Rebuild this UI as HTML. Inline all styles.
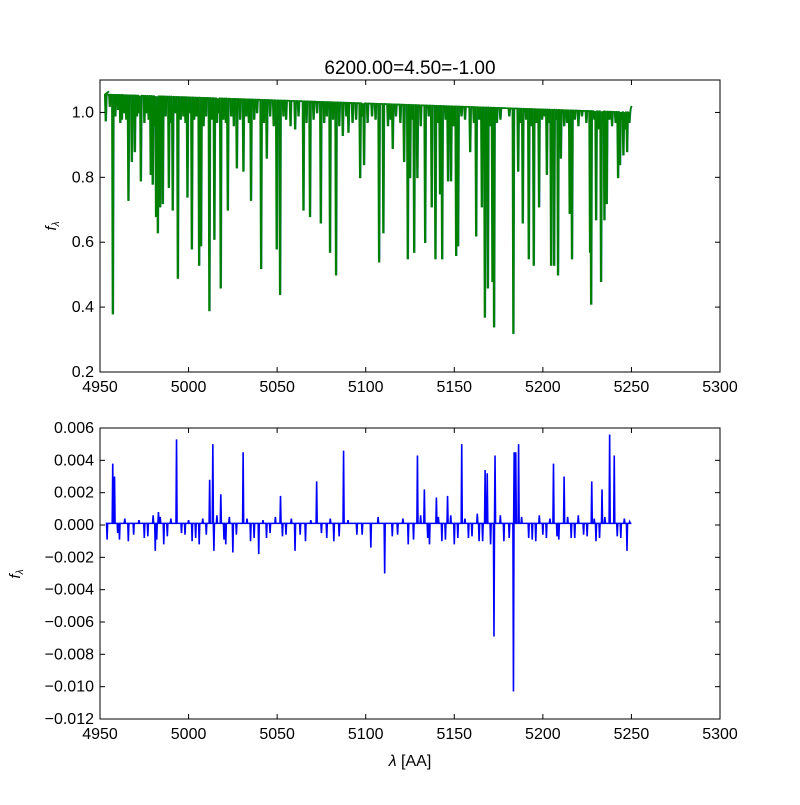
<!DOCTYPE html>
<html><head><meta charset="utf-8"><style>
body{margin:0;background:#fff;}
svg text{font-family:"Liberation Sans",sans-serif;}
</style></head><body>
<svg id="c" width="800" height="800" xmlns="http://www.w3.org/2000/svg"></svg>
<script>
// ---- data ----
const contStart = 1.065, contEnd = 1.01; // continuum flux at 4955 and 5250
const lineWave = [4953.2,4957.2,4962.3,4966.0,4967.9,4969.6,4973.0,4978.6,4979.7,4981.6,4982.6,4983.9,4985.4,4988.8,4991.0,4993.9,4999.3,5001.8,5005.9,5007.0,5011.7,5014.5,5018.1,5022.1,5027.2,5030.9,5035.2,5040.9,5044.1,5049.7,5051.6,5060.1,5064.8,5068.5,5074.6,5079.8,5083.2,5087.0,5090.2,5096.8,5099.0,5107.5,5109.9,5115.2,5121.6,5123.7,5125.0,5127.3,5129.1,5133.5,5137.2,5139.3,5141.9,5143.1,5146.4,5148.1,5151.0,5152.1,5158.9,5162.3,5165.5,5167.2,5168.9,5171.5,5172.4,5183.3,5186.0,5188.6,5192.0,5194.8,5197.8,5202.2,5204.6,5206.3,5208.5,5210.1,5215.1,5216.4,5226.6,5227.2,5230.0,5232.8,5234.7,5236.0,5242.4,5243.5,5245.4,5247.5];
const lineMin = [0.975,0.38,0.98,0.73,0.85,0.88,0.79,0.81,0.78,0.68,0.63,0.71,0.72,0.77,0.70,0.49,0.74,0.58,0.53,0.59,0.39,0.61,0.46,0.70,0.83,0.82,0.73,0.52,0.86,0.58,0.44,0.95,0.70,0.68,0.66,0.57,0.50,0.93,0.94,0.80,0.84,0.54,0.63,0.89,0.85,0.55,0.80,0.57,0.80,0.60,0.71,0.55,0.75,0.55,0.79,0.79,0.56,0.59,0.88,0.62,0.71,0.37,0.46,0.48,0.34,0.32,0.82,0.66,0.55,0.53,0.71,0.81,0.53,0.53,0.50,0.86,0.69,0.55,0.57,0.41,0.67,0.48,0.67,0.72,0.80,0.84,0.87,0.88];
const weakWave = [4955.5,4958.6,4960.1,4961.4,4963.6,4964.8,4970.8,4972.0,4975.0,4976.3,4977.4,4980.6,4984.6,4987.0,4989.9,4992.4,4995.5,4997.0,4998.2,5000.5,5003.1,5004.4,5008.4,5009.8,5013.0,5016.0,5017.0,5019.6,5021.0,5024.0,5025.5,5029.0,5032.5,5034.0,5037.0,5038.6,5042.5,5046.0,5048.0,5053.5,5055.0,5057.5,5062.0,5066.5,5070.5,5072.5,5076.5,5078.0,5081.5,5085.0,5089.0,5092.5,5094.5,5098.0,5101.0,5103.5,5105.5,5112.5,5114.0,5117.0,5119.5,5126.2,5131.0,5135.5,5140.6,5145.0,5149.6,5154.0,5156.0,5161.0,5164.0,5170.0,5174.0,5176.0,5181.0,5187.3,5190.5,5193.5,5196.2,5199.5,5201.0,5203.4,5207.4,5212.0,5213.6,5218.0,5220.0,5222.0,5224.5,5229.0,5231.5,5233.8,5237.5,5239.0,5241.0,5244.5,5246.4,5248.8];
const weakMin = [1.02,0.99,1.01,0.97,1.0,0.98,0.99,1.0,0.97,1.0,0.98,0.96,0.98,0.99,0.97,1.0,0.98,0.99,0.97,1.0,0.98,0.99,0.96,0.99,0.98,0.97,1.0,0.98,0.97,0.99,0.96,0.98,0.99,0.97,0.98,1.0,0.97,0.99,0.96,0.99,0.98,0.96,0.99,0.97,0.98,1.0,0.97,0.99,0.98,0.96,0.99,0.97,0.98,0.99,0.97,0.99,0.98,0.96,0.98,0.99,0.97,0.98,0.96,0.99,0.97,0.98,0.96,0.99,0.98,0.97,0.98,0.96,0.97,0.98,0.99,0.97,0.98,0.96,0.97,0.98,0.99,0.97,0.98,0.96,0.97,0.98,0.96,0.99,0.97,0.98,0.95,0.97,0.98,0.96,0.97,0.98,0.95,0.97];
const resWave = [4954.0,4957.2,4958.2,4961.0,4966.0,4975.0,4981.2,4983.0,4986.0,4993.2,4998.0,5002.0,5006.0,5011.9,5013.7,5014.3,5018.2,5021.0,5025.0,5030.8,5035.0,5039.6,5044.0,5051.9,5055.0,5060.1,5066.0,5072.3,5078.0,5082.0,5087.5,5095.0,5102.9,5110.7,5118.0,5124.0,5129.2,5133.1,5136.0,5139.9,5143.0,5146.2,5150.0,5154.2,5158.0,5164.0,5167.4,5168.6,5170.5,5172.4,5173.0,5178.0,5183.4,5183.8,5184.7,5186.3,5192.0,5196.0,5200.0,5206.0,5209.0,5212.0,5218.0,5223.0,5227.6,5230.0,5233.4,5237.7,5240.3,5244.0,5247.5,5249.0];
const resVal = [-0.0009,0.0038,0.0030,-0.0009,-0.0010,-0.0008,-0.0016,0.0008,-0.0012,0.0053,-0.0006,-0.0010,-0.0012,0.0028,0.0050,-0.0016,0.0019,-0.0012,-0.0017,0.0045,-0.0010,-0.0018,-0.0008,0.0018,-0.0006,-0.0016,-0.0010,0.0027,-0.0008,-0.0010,0.0046,-0.0006,-0.0014,-0.0030,-0.0006,-0.0012,0.0043,0.0022,-0.0012,0.0017,-0.0010,0.0018,-0.0012,0.0050,-0.0008,-0.0010,0.0034,0.0032,-0.0012,-0.0069,0.0043,-0.0010,-0.0103,0.0045,0.0045,0.0050,-0.0008,-0.0010,-0.0006,0.0038,-0.0009,0.0030,-0.0008,-0.0006,0.0027,-0.0010,0.0022,0.0056,0.0043,-0.0008,-0.0016,0.0002];
const noiseWave = [4960,4964,4969,4972,4977,4980,4982,4984,4988,4990,4996,5000,5004,5008,5010,5016,5020,5023,5027,5033,5037,5042,5046,5049,5053,5058,5063,5069,5075,5080,5085,5090,5098,5107,5115,5121,5127,5131,5135,5141,5145,5148,5152,5156,5160,5163,5166,5176,5181,5188,5194,5198,5202,5204,5208,5214,5216,5220,5225,5229,5232,5235,5242,5246];
const noiseVal = [-0.0005,0.0004,-0.0006,0.0003,-0.0007,0.0006,-0.0009,0.0005,-0.0007,0.0004,-0.0005,0.0003,-0.0008,0.0004,-0.0006,0.0006,-0.0009,0.0005,-0.0006,0.0004,-0.0008,0.0003,-0.0005,0.0005,-0.0007,0.0004,-0.0006,0.0003,-0.0005,0.0004,-0.0007,0.0003,-0.0006,0.0005,-0.0007,0.0004,-0.0009,0.0006,-0.0008,0.0005,-0.0009,0.0006,-0.0008,0.0004,-0.0007,0.0007,-0.0010,0.0006,-0.0008,0.0005,-0.0009,0.0006,-0.0008,0.0004,-0.0007,0.0005,-0.0008,0.0006,-0.0007,0.0004,-0.0008,0.0005,-0.0007,0.0004];
const xTicks = [4950,5000,5050,5100,5150,5200,5250,5300];
const yTopTicks = [0.2,0.4,0.6,0.8,1.0];
const yBotTicks = [0.006,0.004,0.002,0.000,-0.002,-0.004,-0.006,-0.008,-0.010,-0.012];

const NS="http://www.w3.org/2000/svg", svg=document.getElementById('c');
function el(t,a,p){const e=document.createElementNS(NS,t);for(const k in a)e.setAttribute(k,a[k]);(p||svg).appendChild(e);return e;}
const X0=100,X1=720;
const xs=w=>X0+(w-4950)/350*(X1-X0);
const T0=80,T1=372; const yt=v=>T1-(v-0.2)/0.9*(T1-T0);
const B0=428,B1=719; const yb=v=>B1-(v+0.012)/0.018*(B1-B0);
const cont=w=>contStart+(contEnd-contStart)*(w-4955)/(5250-4955);

function grp(name){const g=el('g',{});
  
  
  return g;}
const ptStr=(a,f)=>a.map(p=>xs(p[0]).toFixed(2)+','+f(p[1]).toFixed(2)).join(' ');

// top panel
const gt=grp('top-axes');
let ls=[];
lineWave.forEach((w,i)=>ls.push([w,lineMin[i]]));
weakWave.forEach((w,i)=>ls.push([w,Math.min(weakMin[i],cont(w))]));
ls.sort((a,b)=>a[0]-b[0]);
let pts=[[4955,cont(4955)]];
ls.forEach(([w,m])=>{pts.push([w-0.5,cont(w)-0.01],[w-0.15,m],[w+0.15,m],[w+0.5,cont(w)-0.01]);});
pts.push([5249.5,cont(5249.5)],[5250,1.02]);
const ml=el('polyline',{points:ptStr(pts.map(p=>[p[0]+0.2,p[1]]),yt),fill:'none',stroke:'#2a6f8f','stroke-width':1.5},gt);

const dl=el('polyline',{points:ptStr(pts,yt),fill:'none',stroke:'#008000','stroke-width':1.6},gt);


// bottom panel
const gb=grp('bottom-axes');
let rs=[];
resWave.forEach((w,i)=>rs.push([w,resVal[i]]));
noiseWave.forEach((w,i)=>rs.push([w,noiseVal[i]]));
rs.sort((a,b)=>a[0]-b[0]);
let rp=[[4955,0.0001]];
rs.forEach(([w,v])=>{rp.push([w-0.3,0.0001],[w,v],[w+0.3,0.0001]);});
rp.push([5250,0.0001]);
const rl=el('polyline',{points:ptStr(rp,yb),fill:'none',stroke:'#0000ff','stroke-width':1.6},gb);


function frame(t,b,yticks,yf,fmt,g){
  el('rect',{x:X0,y:t,width:X1-X0,height:b-t,fill:'none',stroke:'#000','stroke-width':1},g);
  xTicks.forEach(v=>{const x=xs(v);
    el('line',{x1:x,x2:x,y1:b,y2:b-5,stroke:'#000'},g);el('line',{x1:x,x2:x,y1:t,y2:t+5,stroke:'#000'},g);
    const tx=el('text',{x:x,y:b+20,'text-anchor':'middle','font-size':16},g);tx.textContent=v;
    });
  yticks.forEach(v=>{const y=yf(v);
    el('line',{x1:X0,x2:X0+5,y1:y,y2:y,stroke:'#000'},g);el('line',{x1:X1,x2:X1-5,y1:y,y2:y,stroke:'#000'},g);
    const tx=el('text',{x:X0-6,y:y+5,'text-anchor':'end','font-size':16},g);tx.textContent=fmt(v).replace('-','\u2212');
    });
}
frame(T0,T1,yTopTicks,yt,v=>v.toFixed(1),gt);
frame(B0,B1,yBotTicks,yb,v=>v.toFixed(3),gb);

const title=el('text',{x:410,y:74,'text-anchor':'middle','font-size':19});title.textContent='6200.00=4.50=-1.00';

const yl1=el('text',{transform:'translate(56,226) rotate(-90)','text-anchor':'middle','font-size':15,'font-style':'italic'});
yl1.innerHTML='f<tspan font-size="10" dy="3">λ</tspan>';

const yl2=el('text',{transform:'translate(20,574) rotate(-90)','text-anchor':'middle','font-size':15,'font-style':'italic'});
yl2.innerHTML='f<tspan font-size="10" dy="3">λ</tspan>';

const xl=el('text',{x:410,y:766,'text-anchor':'middle','font-size':16});xl.innerHTML='<tspan font-style="italic">λ</tspan> [AA]';

</script>
</body></html>
